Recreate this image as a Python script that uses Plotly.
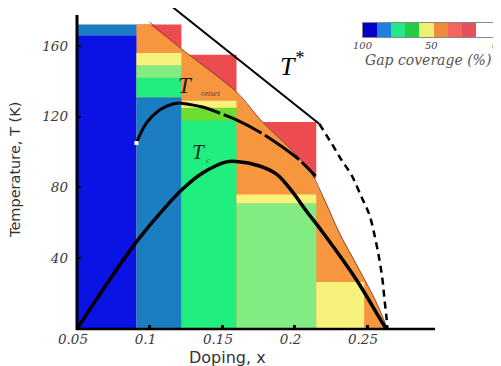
import plotly.graph_objects as go

# The page body has an 8 px margin, so the figure is sized to fit the window
OFF = 8
W, H = 501 - OFF, 366 - OFF

# ---------------- data ----------------
doping_edges = [0.05, 0.091, 0.122, 0.160, 0.215, 0.248]

palette = {
    "dkblue": "#0A12E4",
    "steel": "#1B7EC2",
    "spring": "#20EE7E",
    "ltgreen": "#82EC82",
    "lime": "#6CDC2E",
    "yellow": "#F7F27C",
    "orange": "#F6963F",
    "red": "#EC4B50",
}

# lower coloured bands per doping column
band_column = [0, 0, 1, 1, 1, 1, 2, 2, 2, 3, 3, 4]
band_t_low = [0, 166, 0, 131, 142, 149, 0, 118, 125, 0, 71, 0]
band_t_high = [166, 172, 131, 142, 149, 156, 118, 125, 129, 71, 76, 26.5]
band_color = ["dkblue", "steel", "steel", "spring", "ltgreen", "yellow",
              "spring", "lime", "yellow", "ltgreen", "yellow", "yellow"]

# red top blocks (visible above the orange region)
red_column = [1, 2, 3]
red_t_low = [156, 129, 85]
red_t_high = [172, 155, 117]

# upper boundary of the orange region
edge_x = [0.100, 0.1221, 0.160, 0.1779, 0.1966, 0.2103, 0.2207, 0.2310, 0.2448, 0.2566, 0.2641]
edge_t = [173.4, 158.2, 133.9, 116.9, 102.3, 89.8, 72.9, 54.2, 33.3, 14.7, 0]

# Tc dome
tc_x = [0.05, 0.0724, 0.091, 0.1069, 0.1221, 0.1366, 0.1531, 0.160, 0.1759, 0.1876,
        0.1986, 0.2083, 0.2193, 0.2428, 0.2607, 0.2634]
tc_t = [0, 27.7, 49.2, 65.0, 78.5, 88.1, 94.4, 94.6, 92.1, 87.5,
        77.5, 66.5, 54.8, 27.7, 3.4, 0]

# T_onset
onset_solid_x = [0.0910, 0.0979, 0.1069, 0.1159, 0.1207]
onset_solid_t = [105.1, 116.4, 123.7, 127.1, 127.7]
onset_dash_x = [0.1207, 0.1366, 0.1483, 0.1600, 0.1759, 0.1897, 0.2034, 0.2145]
onset_dash_t = [127.7, 125.4, 122.0, 118.1, 111.3, 103.95, 95.5, 86.4]

# T*
tstar_solid_x = [0.1159, 0.2172]
tstar_solid_t = [181.9, 115.8]
tstar_dash_x = [0.2172, 0.2262, 0.2324, 0.2393, 0.2462, 0.2517, 0.2559, 0.2586,
                0.2607, 0.2621, 0.2634, 0.2641]
tstar_dash_t = [115.8, 104.0, 95.5, 87.0, 74.6, 64.4, 50.3, 39.0, 27.7, 16.4, 6.8, 0]

# colour bar (gap coverage, %)
cbar_centers = [95, 85, 75, 65, 55, 45, 35, 25, 15, 5]
cbar_colors = ["#0000C8", "#1E80DE", "#22E88A", "#22CC44", "#EEF070",
               "#F28A3E", "#F2665E", "#E5525E", "#FFFFFF", "#FFFFFF"]
cbar_labels = ["100", "50", "0"]

x_ticks = [0.05, 0.1, 0.15, 0.2, 0.25]
x_ticktext = ["0.05", "0.1", "0.15", "0.2", "0.25"]
y_ticks = [40, 80, 120, 160]
y_ticktext = ["40", "80", "120", "160"]

# ---------------- figure ----------------
fig = go.Figure()


def rect(x0, x1, t0, t1, color):
    fig.add_trace(go.Scatter(
        x=[x0, x1, x1, x0, x0], y=[t0, t0, t1, t1, t0],
        mode="lines", fill="toself", fillcolor=color,
        line=dict(width=0, color=color), hoverinfo="skip", showlegend=False))


# red tops
for c, t0, t1 in zip(red_column, red_t_low, red_t_high):
    rect(doping_edges[c], doping_edges[c + 1], t0, t1, palette["red"])

# orange region under the boundary curve (capped at column top)
cap = band_t_high[1]
ox = [doping_edges[1], doping_edges[1]] + edge_x + [doping_edges[1]]
ot = [0, cap] + [min(t, cap) for t in edge_t] + [0]
fig.add_trace(go.Scatter(x=ox, y=ot, mode="lines", fill="toself",
                         fillcolor=palette["orange"], line=dict(width=0, color=palette["orange"]),
                         hoverinfo="skip", showlegend=False))

# lower bands
for c, t0, t1, col in zip(band_column, band_t_low, band_t_high, band_color):
    rect(doping_edges[c], doping_edges[c + 1], t0, t1, palette[col])

# thin boundary line
fig.add_trace(go.Scatter(x=edge_x, y=edge_t, mode="lines", line=dict(color="#9A4030", width=1, shape="spline"),
                         hoverinfo="skip", showlegend=False))

# T* lines
fig.add_trace(go.Scatter(x=tstar_solid_x, y=tstar_solid_t, mode="lines",
                         line=dict(color="black", width=2), showlegend=False, cliponaxis=False))
fig.add_trace(go.Scatter(x=tstar_dash_x, y=tstar_dash_t, mode="lines",
                         line=dict(color="black", width=2.5, dash="7px,5px", shape="spline"),
                         showlegend=False))

# T_onset
fig.add_trace(go.Scatter(x=onset_solid_x, y=onset_solid_t, mode="lines",
                         line=dict(color="black", width=3, shape="spline"), showlegend=False))
fig.add_trace(go.Scatter(x=onset_dash_x, y=onset_dash_t, mode="lines",
                         line=dict(color="black", width=3, dash="42px,4px", shape="spline"),
                         showlegend=False))
fig.add_trace(go.Scatter(x=[onset_solid_x[0]], y=[onset_solid_t[0]], mode="markers",
                         marker=dict(color="white", size=4, symbol="square"), showlegend=False))

# Tc
fig.add_trace(go.Scatter(x=tc_x, y=tc_t, mode="lines",
                         line=dict(color="black", width=3.5, shape="spline", smoothing=1.0),
                         showlegend=False))

# colour bar as a small heatmap
n = len(cbar_colors)
cscale = []
for i, c in enumerate(cbar_colors):
    cscale.append([i / n, c])
    cscale.append([(i + 1) / n, c])
fig.add_trace(go.Heatmap(x=cbar_centers, y=[0], z=[[i + 0.5 for i in range(n)]],
                         zmin=0, zmax=n, colorscale=cscale, showscale=False,
                         xaxis="x2", yaxis="y2", hoverinfo="skip"))

serif = "Liberation Serif"
wserif = "DejaVu Serif"
sans = "DejaVu Sans"


def px_x(p):
    return min(1.0, max(0.0, (p - OFF) / W))


def px_y(p):
    return min(1.0, max(0.0, 1 - (p - OFF) / H))


tickfont = dict(family=wserif, size=13.5, style="italic", color="#3a3a3a")

fig.update_layout(
    width=W, height=H,
    margin=dict(l=0, r=0, t=0, b=0, pad=0, autoexpand=False),
    paper_bgcolor="white", plot_bgcolor="white",
    showlegend=False,
    xaxis=dict(domain=[px_x(77), px_x(435)], range=[0.05, 0.05 + 358 / 1450],
               automargin=False,
               showgrid=False, zeroline=False, showline=False,
               tickvals=x_ticks, ticktext=x_ticktext,
               ticks="inside", ticklen=4, tickwidth=2.5, tickcolor="black",
               tickfont=tickfont, ticklabelshift=-4),
    yaxis=dict(domain=[px_y(329), px_y(8)], range=[0, 321 / 1.77],
               automargin=False,
               showgrid=False, zeroline=False, showline=False,
               tickvals=y_ticks, ticktext=y_ticktext,
               ticks="inside", ticklen=4, tickwidth=2, tickcolor="black",
               tickfont=tickfont, ticklabelstandoff=8),
    xaxis2=dict(domain=[px_x(363), 1], anchor="y2", range=[100, 2.1], automargin=False,
                showgrid=False, zeroline=False, showticklabels=False, ticks="",
                showline=True, mirror=True, linecolor="#888", linewidth=1),
    yaxis2=dict(domain=[px_y(37), px_y(23)], anchor="x2", range=[-0.5, 0.5], automargin=False,
                showgrid=False, zeroline=False, showticklabels=False, ticks="",
                showline=True, mirror=True, linecolor="#888", linewidth=1),
)

# axis lines
fig.add_shape(type="line", xref="paper", yref="paper",
              x0=px_x(77), x1=px_x(77), y0=px_y(330), y1=px_y(15),
              line=dict(color="black", width=3), layer="above")
fig.add_shape(type="line", xref="paper", yref="paper",
              x0=px_x(76), x1=px_x(435), y0=px_y(329), y1=px_y(329),
              line=dict(color="black", width=2.5), layer="above")


def label(text, px, py, size, color, family=serif, italic=True, angle=0, xanchor="center"):
    font = dict(family=family, size=size, color=color)
    if italic:
        font["style"] = "italic"
    return dict(text=text, x=px_x(px), y=px_y(py), xref="paper", yref="paper",
                xanchor=xanchor, yanchor="middle", showarrow=False,
                textangle=angle, font=font)


ann = []
ann.append(label(cbar_labels[0], 363, 45, 10, "#444", family=wserif))
ann.append(label(cbar_labels[1], 431, 45, 10, "#444", family=wserif))
ann.append(label(cbar_labels[2], 501, 45, 10, "#444", family=wserif, xanchor="right"))
ann.append(label("Gap coverage (%)", 428, 60, 14, "#555", family=wserif))
ann.append(label("T<sup>*</sup>", 292, 64, 26, "black"))
ann.append(label("T", 185, 86, 23, "#1a1a1a"))
ann.append(label("onset", 210, 93, 9, "#6a4434"))
ann.append(label("T", 198, 152, 21, "#0f2f1a"))
ann.append(label("c", 208, 160, 9, "#3a6a4a"))
ann.append(label("Temperature, T (K)", 15, 170, 14.5, "#333", family=sans, italic=False, angle=-90))
ann.append(label("Doping, x", 227, 357, 16, "#333", family=sans, italic=False))
fig.update_layout(annotations=ann)

fig.write_html("out.html")
